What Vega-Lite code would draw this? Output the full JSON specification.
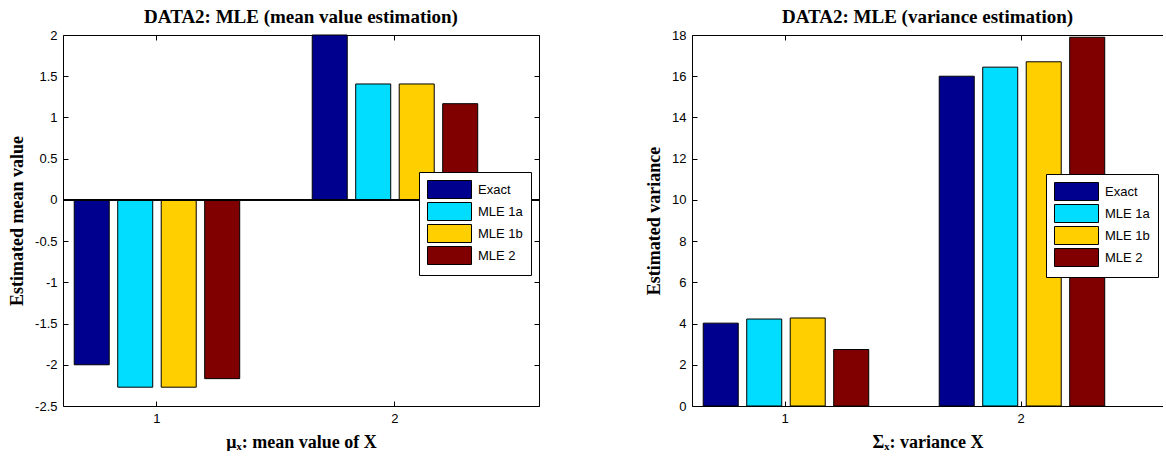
{
  "$schema": "https://vega.github.io/schema/vega-lite/v6.json",
  "background": "white",
  "padding": {"left": 8, "top": 8, "right": 0, "bottom": 0},
  "spacing": 105,
  "config": {
    "view": {"stroke": null},
    "axis": {
      "grid": false,
      "domainColor": "black",
      "domainWidth": 1,
      "tickColor": "black",
      "tickWidth": 1,
      "tickSize": -5,
      "labelFont": "Liberation Sans",
      "labelFontSize": 13,
      "labelColor": "black",
      "labelPadding": 11,
      "titleFont": "Liberation Serif",
      "titleFontSize": 18,
      "titleFontWeight": "bold",
      "titleColor": "black"
    },
    "title": {"font": "Liberation Serif", "fontSize": 19, "fontWeight": "bold", "color": "black", "offset": 2},
    "legend": {
      "orient": "none",
      "title": null,
      "strokeColor": "black",
      "fillColor": "white",
      "padding": 8,
      "cornerRadius": 0,
      "symbolType": "M-1,-1H3.889V1H-1Z",
      "symbolSize": 324,
      "symbolStrokeColor": "black",
      "symbolStrokeWidth": 1,
      "symbolOpacity": 1,
      "labelFont": "Liberation Sans",
      "labelFontSize": 13,
      "labelColor": "black",
      "labelOffset": 32,
      "rowPadding": -1
    }
  },
  "resolve": {"scale": {"color": "independent"}, "legend": {"color": "independent"}},
  "hconcat": [
    {
      "title": "DATA2: MLE (mean value estimation)",
      "width": 476,
      "height": 371,
      "data": {"values": [
        {"group": "1", "series": "Exact", "value": -2.0},
        {"group": "1", "series": "MLE 1a", "value": -2.272},
        {"group": "1", "series": "MLE 1b", "value": -2.272},
        {"group": "1", "series": "MLE 2", "value": -2.168},
        {"group": "2", "series": "Exact", "value": 2.0},
        {"group": "2", "series": "MLE 1a", "value": 1.406},
        {"group": "2", "series": "MLE 1b", "value": 1.406},
        {"group": "2", "series": "MLE 2", "value": 1.167}
      ]},
      "layer": [
        {
          "mark": {"type": "bar", "stroke": "black", "strokeWidth": 1},
          "encoding": {
            "x": {"field": "group", "type": "ordinal",
              "scale": {"type": "band", "paddingInner": 0.269, "paddingOuter": 0.1345, "align": 0.109},
              "axis": {"orient": "bottom", "labelAngle": 0, "title": "μₓ: mean value of X", "titlePadding": 8}},
            "xOffset": {"field": "series", "type": "nominal", "scale": {"paddingInner": 0.195, "paddingOuter": 0.0975}},
            "y": {"field": "value", "type": "quantitative", "stack": null,
              "scale": {"domain": [-2.5, 2], "nice": false, "zero": false},
              "axis": {"orient": "left", "values": [-2.5, -2, -1.5, -1, -0.5, 0, 0.5, 1, 1.5, 2], "labelExpr": "'' + datum.value", "title": "Estimated mean value", "titlePadding": 8}},
            "y2": {"datum": 0},
            "color": {"field": "series", "type": "nominal",
              "scale": {"domain": ["Exact", "MLE 1a", "MLE 1b", "MLE 2"], "range": ["#00008F", "#00DDFF", "#FFCF00", "#800000"]},
              "legend": {"legendX": 356, "legendY": 137}}
          }
        },
        {
          "mark": {"type": "rule", "color": "black", "strokeWidth": 1},
          "encoding": {"y": {"datum": 0, "axis": null}}
        },
        {
          "mark": {"type": "bar", "opacity": 0},
          "encoding": {
            "x": {"field": "group", "type": "ordinal", "axis": {"orient": "top", "labels": false, "title": null}},
            "y": {"field": "value", "type": "quantitative", "stack": null, "axis": {"orient": "right", "labels": false, "title": null, "values": [-2.5, -2, -1.5, -1, -0.5, 0, 0.5, 1, 1.5, 2]}},
            "y2": {"datum": 0}
          }
        }
      ]
    },
    {
      "title": "DATA2: MLE (variance estimation)",
      "width": 471,
      "height": 371,
      "data": {"values": [
        {"group": "1", "series": "Exact", "value": 4.02},
        {"group": "1", "series": "MLE 1a", "value": 4.22},
        {"group": "1", "series": "MLE 1b", "value": 4.27},
        {"group": "1", "series": "MLE 2", "value": 2.74},
        {"group": "2", "series": "Exact", "value": 16.0},
        {"group": "2", "series": "MLE 1a", "value": 16.44},
        {"group": "2", "series": "MLE 1b", "value": 16.7},
        {"group": "2", "series": "MLE 2", "value": 17.89}
      ]},
      "layer": [
        {
          "mark": {"type": "bar", "stroke": "black", "strokeWidth": 1},
          "encoding": {
            "x": {"field": "group", "type": "ordinal",
              "scale": {"type": "band", "paddingInner": 0.271, "paddingOuter": 0.1334, "align": 0.111},
              "axis": {"orient": "bottom", "labelAngle": 0, "title": "Σₓ: variance X", "titlePadding": 8}},
            "xOffset": {"field": "series", "type": "nominal", "scale": {"paddingInner": 0.195, "paddingOuter": 0.0975}},
            "y": {"field": "value", "type": "quantitative", "stack": null,
              "scale": {"domain": [0, 18], "nice": false, "zero": false},
              "axis": {"orient": "left", "values": [0, 2, 4, 6, 8, 10, 12, 14, 16, 18], "labelExpr": "'' + datum.value", "title": "Estimated variance", "titlePadding": 8}},
            "y2": {"datum": 0},
            "color": {"field": "series", "type": "nominal",
              "scale": {"domain": ["Exact", "MLE 1a", "MLE 1b", "MLE 2"], "range": ["#00008F", "#00DDFF", "#FFCF00", "#800000"]},
              "legend": {"legendX": 354, "legendY": 139}}
          }
        },
        {
          "mark": {"type": "bar", "opacity": 0},
          "encoding": {
            "x": {"field": "group", "type": "ordinal", "axis": {"orient": "top", "labels": false, "title": null}}
          }
        }
      ]
    }
  ]
}
